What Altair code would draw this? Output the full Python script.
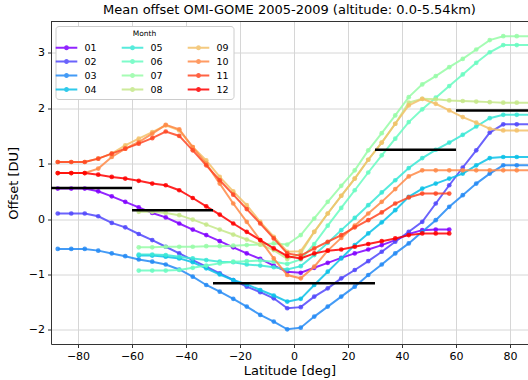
import altair as alt
import pandas as pd

N = None
lats = [-87.5, -82.5, -77.5, -72.5, -67.5, -62.5, -57.5, -52.5, -47.5, -42.5,
        -37.5, -32.5, -27.5, -22.5, -17.5, -12.5, -7.5, -2.5, 2.5, 7.5,
        12.5, 17.5, 22.5, 27.5, 32.5, 37.5, 42.5, 47.5, 52.5, 57.5,
        62.5, 67.5, 72.5, 77.5, 82.5, 87.5]

months = ["01", "02", "03", "04", "05", "06", "07", "08", "09", "10", "11", "12"]
month_colors = ["#8000ff", "#5148fc", "#238af5", "#0bc1e8", "#3ae8d6", "#68fcc1",
                "#97fca7", "#c5e88a", "#f3c16a", "#ff8a48", "#ff4824", "#ff0000"]

m01 = [0.55, 0.55, 0.55, 0.50, 0.41, 0.31, 0.21, 0.11, 0.03, -0.08,
       -0.19, -0.29, -0.40, -0.51, -0.62, -0.72, -0.84, -0.95, -0.97, -0.88,
       -0.79, -0.70, -0.62, -0.55, -0.47, -0.38, -0.27, -0.20, -0.19, -0.19,
       N, N, N, N, N, N]
m02 = [0.10, 0.10, 0.10, 0.05, -0.07, -0.15, -0.27, -0.38, -0.50, -0.62,
       -0.74, -0.86, -0.98, -1.10, -1.22, -1.32, -1.43, -1.61, -1.59, -1.40,
       -1.25, -1.07, -0.92, -0.76, -0.59, -0.41, -0.23, -0.05, 0.28, 0.61,
       0.93, 1.24, 1.56, 1.71, 1.71, 1.71]
m03 = [-0.54, -0.54, -0.54, -0.57, -0.62, -0.67, -0.73, -0.77, -0.82, -0.91,
       -1.04, -1.19, -1.31, -1.44, -1.58, -1.73, -1.85, -1.99, -1.96, -1.76,
       -1.58, -1.40, -1.22, -1.01, -0.82, -0.62, -0.44, -0.23, -0.02, 0.22,
       0.43, 0.64, 0.82, 0.97, 0.97, 0.97]
m04 = [N, N, N, N, N, N, -0.66, -0.66, -0.68, -0.71,
       -0.78, -0.89, -1.00, -1.10, -1.18, -1.28, -1.38, -1.49, -1.44, -1.19,
       -0.95, -0.71, -0.47, -0.26, -0.06, 0.16, 0.40, 0.55, 0.64, 0.73,
       0.82, 0.97, 1.10, 1.12, 1.12, 1.12]
m05 = [N, N, N, N, N, N, -0.64, -0.64, -0.65, -0.68,
       -0.71, -0.74, -0.77, -0.78, -0.82, -0.84, -0.87, -0.91, -0.85, -0.65,
       -0.43, -0.20, 0.02, 0.25, 0.48, 0.70, 0.92, 1.10, 1.25, 1.38,
       1.52, 1.67, 1.82, 1.88, 1.88, 1.88]
m06 = [N, N, N, N, N, N, -0.93, -0.93, -0.93, -0.92,
       -0.88, -0.84, -0.80, -0.77, -0.76, -0.75, -0.77, -0.81, -0.73, -0.45,
       -0.12, 0.20, 0.52, 0.84, 1.15, 1.45, 1.75, 1.98, 2.19, 2.40,
       2.61, 2.82, 3.01, 3.14, 3.14, 3.14]
m07 = [N, N, N, N, N, N, -0.51, -0.51, -0.50, -0.50,
       -0.50, -0.49, -0.49, -0.48, -0.47, -0.46, -0.44, -0.46, -0.29, 0.01,
       0.31, 0.60, 0.88, 1.24, 1.55, 1.87, 2.20, 2.43, 2.58, 2.74,
       2.89, 3.06, 3.23, 3.30, 3.30, 3.30]
m08 = [N, N, N, N, N, N, 0.13, 0.13, 0.11, 0.07,
       -0.01, -0.10, -0.19, -0.28, -0.37, -0.46, -0.56, -0.72, -0.62, -0.23,
       0.10, 0.42, 0.73, 1.07, 1.38, 1.72, 2.10, 2.17, 2.16, 2.14,
       2.13, 2.12, 2.11, 2.10, 2.10, 2.10]
m09 = [1.03, 1.03, 1.03, 1.09, 1.18, 1.33, 1.45, 1.57, 1.69, 1.60,
       1.30, 1.06, 0.76, 0.50, 0.25, -0.05, -0.32, -0.59, -0.58, -0.23,
       0.10, 0.42, 0.73, 1.07, 1.38, 1.72, 2.05, 2.17, 2.08, 1.96,
       1.84, 1.74, 1.63, 1.60, 1.60, 1.60]
m10 = [0.83, 0.83, 0.83, 0.91, 1.12, 1.27, 1.39, 1.54, 1.70, 1.62,
       1.30, 1.00, 0.64, 0.28, -0.05, -0.38, -0.71, -1.01, -1.07, -0.86,
       -0.57, -0.34, -0.12, 0.10, 0.31, 0.54, 0.77, 0.88, 0.88, 0.88,
       0.88, 0.88, 0.88, 0.88, 0.88, 0.88]
m11 = [1.03, 1.03, 1.03, 1.09, 1.18, 1.27, 1.36, 1.46, 1.58, 1.50,
       1.24, 0.97, 0.70, 0.44, 0.18, -0.08, -0.35, -0.62, -0.66, -0.53,
       -0.41, -0.29, -0.15, -0.02, 0.12, 0.28, 0.39, 0.46, 0.46, 0.46,
       N, N, N, N, N, N]
m12 = [0.83, 0.83, 0.83, 0.80, 0.76, 0.73, 0.69, 0.64, 0.61, 0.52,
       0.38, 0.23, 0.08, -0.08, -0.23, -0.38, -0.53, -0.67, -0.71, -0.62,
       -0.57, -0.55, -0.50, -0.45, -0.40, -0.35, -0.29, -0.26, -0.26, -0.26,
       N, N, N, N, N, N]

# reference (black) segments
seg_start = [-90, -60, -30, 30, 60]
seg_end = [-60, -30, 30, 60, 90]
seg_value = [0.56, 0.157, -1.16, 1.25, 1.96]

series = dict(zip(months, [m01, m02, m03, m04, m05, m06, m07, m08, m09, m10, m11, m12]))
rows = []
for m, vals in series.items():
    for lat, v in zip(lats, vals):
        if v is not None:
            rows.append({"month": m, "lat": lat, "offset": v})
df = pd.DataFrame(rows)
seg_df = pd.DataFrame({"start": seg_start, "end": seg_end, "value": seg_value})

FONT = "DejaVu Sans"
W, H = 477, 322.5
sym_path = "M-1.8,0H1.8M-0.25,0A0.25,0.25,0,1,0,0.25,0A0.25,0.25,0,1,0,-0.25,0Z"

color_enc = alt.Color(
    "month:N",
    scale=alt.Scale(domain=months, range=month_colors),
    legend=alt.Legend(
        title="Month", orient="none", legendX=4.5, legendY=4.5, columns=3,
        symbolType=sym_path, symbolSize=144, symbolStrokeWidth=2,
        labelOffset=11, columnPadding=20, rowPadding=1, padding=4,
        fillColor="white", strokeColor="#cccccc", cornerRadius=3,
        titleFontSize=7.5, titleFontWeight="normal", titleAnchor="middle",
        titleFont=FONT, labelFont=FONT, labelFontSize=9.5, titlePadding=3,
        labelColor="black", titleColor="black",
    ),
)

x_enc = alt.X("lat:Q", scale=alt.Scale(domain=[-90, 86.67], nice=False, zero=False),
              axis=alt.Axis(values=[-80, -60, -40, -20, 0, 20, 40, 60, 80], title="Latitude [deg]"))
y_enc = alt.Y("offset:Q", scale=alt.Scale(domain=[-2.255, 3.565], nice=False, zero=False),
              axis=alt.Axis(values=[-2, -1, 0, 1, 2, 3], format="d", title="Offset [DU]"))

layers = []
for m in months:
    layers.append(
        alt.Chart(df).transform_filter(alt.datum.month == m)
        .mark_line(strokeWidth=2, opacity=0.85, clip=True,
                   point=alt.OverlayMarkDef(filled=True, size=22, opacity=0.85, clip=True))
        .encode(x=x_enc, y=y_enc, color=color_enc)
    )

segs = alt.Chart(seg_df).mark_rule(color="black", strokeWidth=2.5, clip=True).encode(
    x="start:Q", x2="end:Q", y="value:Q")

top_spine = alt.Chart(seg_df).mark_rule(color="#333333", strokeWidth=1).encode(
    x=alt.value(0), x2=alt.value(W), y=alt.value(0))

chart = alt.layer(*layers, segs, top_spine).properties(
    width=W, height=H,
    title=alt.Title("Mean offset OMI-GOME 2005-2009 (altitude: 0.0-5.54km)",
                    font=FONT, fontSize=13, fontWeight="normal", anchor="middle",
                    color="black", offset=4),
    autosize=alt.AutoSizeParams(type="none"),
    padding={"left": 51, "top": 21.5, "right": 0, "bottom": 36},
).configure_view(stroke=None).configure_axis(
    labelFont=FONT, labelFontSize=11, labelColor="black",
    titleFont=FONT, titleFontSize=13, titleFontWeight="normal", titleColor="black",
    domainColor="#333333", domainWidth=1, tickColor="#333333", tickSize=3.5,
    labelPadding=3, gridColor="#d6d6d6", gridWidth=1,
).configure_axisX(titlePadding=3).configure_axisY(titlePadding=8)

chart.save("out.html", embed_options={"renderer": "svg", "actions": False})
